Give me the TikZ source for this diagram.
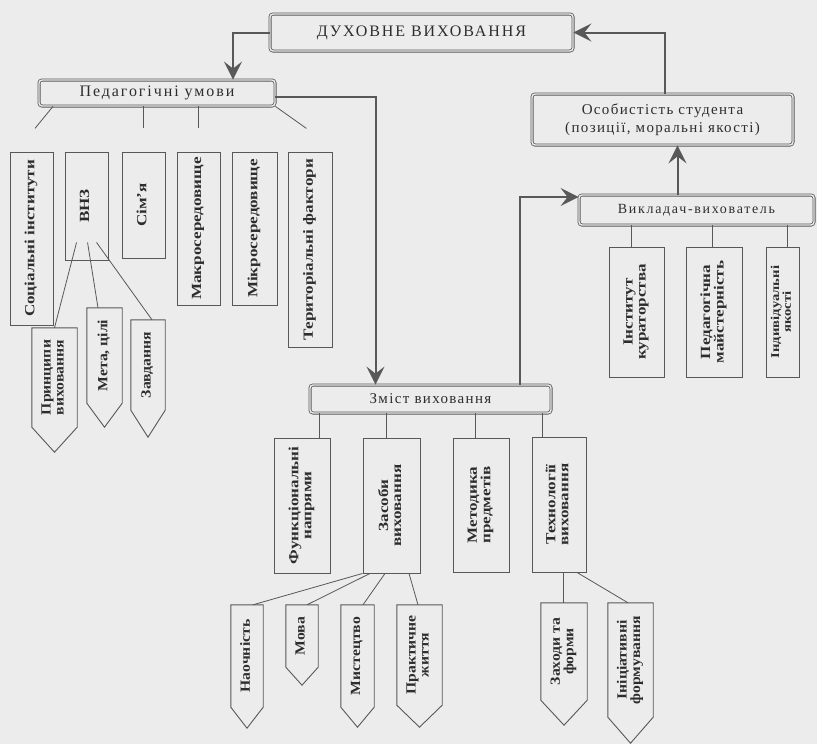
\documentclass[tikz,border=0pt]{standalone}
\usepackage{fontspec}
\setmainfont{Liberation Serif}
\newfontfamily\spacedfont[LetterSpace=12]{Liberation Serif}
\newfontfamily\osofont[LetterSpace=9]{Liberation Serif}
\newfontfamily\widefont[LetterSpace=12]{Liberation Serif}
\usetikzlibrary{arrows.meta,calc}
\definecolor{bgc}{RGB}{236,236,236}
\definecolor{lc}{RGB}{88,88,88}
\definecolor{tc}{RGB}{45,45,45}
\newcommand\vfont{\fontsize{14}{13}\selectfont\bfseries}
\newcommand\vlab[1]{\rotatebox{90}{\scalebox{1.22}[1]{\begin{tabular}{@{}c@{}}#1\end{tabular}}}}
\newcommand\plab[1]{\rotatebox{90}{\scalebox{1.12}[1]{\begin{tabular}{@{}c@{}}#1\end{tabular}}}}
\newcommand\vb[6]{\node[vbox, minimum width={#4-#2}, minimum height={#5-#3}] (#1) at ({(#2+#4)/2},{(#3+#5)/2}) {\vlab{#6}};}
\newcommand\pentnode[7]{%
  \node[inner sep=0pt, minimum width={#3-#2}, minimum height={#5-#4}, font=\vfont, text=tc] (#1) at ({(#2+#3)/2},{(#4+#5)/2}) {\plab{#7}};
  \draw[boxline] (#1.north west) -- (#1.north east) -- (#1.south east) -- ($(#1.south)+(0,{#6-#5})$) -- (#1.south west) -- cycle;}
\tikzset{
  boxline/.style={draw=lc, line width=0.9pt, line join=miter},
  vbox/.style={boxline, inner sep=0pt, font=\vfont, text=tc},
  dbl/.style={draw=lc, double=bgc, double distance=1.4pt, line width=0.8pt, rounded corners=3pt, inner sep=0pt, text=tc, align=center},
  conn/.style={draw=lc, line width=0.8pt},
  arr/.style={draw=lc, line width=2pt, -{Stealth[length=18pt,width=18pt,inset=7pt]}},
}
\begin{document}
\begin{tikzpicture}[x=1pt,y=-1pt]
\fill[bgc] (0,0) rectangle (817,744);
\useasboundingbox (0,0) rectangle (817,744);

% double-framed boxes
\node[dbl, minimum width=303, minimum height=37, font=\fontsize{16}{16}\selectfont\spacedfont] (duh) at (421.5,32.5) {ДУХОВНЕ ВИХОВАННЯ};
\node[dbl, minimum width=236, minimum height=26, font=\fontsize{16}{16}\selectfont\spacedfont] (ped) at (157,93) {Педагогічні умови};
\node[dbl, minimum width=261, minimum height=51, font=\fontsize{15}{18}\selectfont\osofont] (oso) at (662.5,119.5) {Особистість студента\\(позиції, моральні якості)};
\node[dbl, minimum width=235, minimum height=30, font=\fontsize{14}{14}\selectfont\widefont] (vik) at (696.5,210) {Викладач-вихователь};
\node[dbl, minimum width=241, minimum height=28, font=\fontsize{15}{15}\selectfont\osofont] (zm) at (430.5,399) {Зміст виховання};

% vertical boxes
\vb{soc}{10}{152}{53}{325}{Соціальні інститути}
\vb{vnz}{65}{152}{108}{260}{ВНЗ}
\vb{sim}{122}{152}{165}{258}{Сім'я}
\vb{mak}{177}{152}{220}{305}{Макросередовище}
\vb{mik}{232}{152}{277}{305}{Мікросередовище}
\vb{ter}{288}{152}{332}{347}{Територіальні фактори}
\vb{kur}{609}{247}{664}{377}{Інститут\\кураторства}
\vb{maj}{686}{247}{742}{377}{Педагогічна\\майстерність}
\node[vbox, font=\fontsize{12}{11.5}\selectfont\bfseries, minimum width=33, minimum height=130] (ind) at (782.5,312) {\vlab{Індивідуальні\\якості}};
\vb{fun}{274}{438}{330}{573}{Функціональні\\напрями}
\vb{zas}{363}{438}{420}{573}{Засоби\\виховання}
\vb{met}{453}{438}{509}{572}{Методика\\предметів}
\vb{teh}{532}{437}{586}{572}{Технології\\виховання}

% pentagons
\pentnode{pri}{32}{77}{328}{427}{452}{Принципи\\виховання}
\pentnode{mta}{87}{122}{308}{403}{427}{Мета, цілі}
\pentnode{zav}{131}{165}{320}{410}{437}{Завдання}
\pentnode{nao}{231}{263}{605}{707}{728}{Наочність}
\pentnode{mov}{286}{318}{605}{667}{685}{Мова}
\pentnode{mys}{341}{374}{605}{707}{727}{Мистецтво}
\pentnode{pra}{397}{442}{605}{705}{727}{Практичне\\життя}
\pentnode{zah}{541}{587}{603}{700}{725}{Заходи та\\форми}
\pentnode{ini}{608}{653}{603}{717}{743}{Ініціативні\\формування}

% lines under Педагогічні умови (free ends)
\draw[conn] (ped.south -| 53,0) -- ++(-18,22);
\draw[conn] (ped.south -| 143,0) -- ++(0,22);
\draw[conn] (ped.south -| 198,0) -- ++(0,22);
\draw[conn] (ped.south east) -- ++(31,22);

% ВНЗ children
\draw[conn] ([shift={(12,-18)}]vnz.south west) -- (pri.north);
\draw[conn] ([shift={(23,-18)}]vnz.south west) -- (mta.north -| 98,0);
\draw[conn] ([shift={(32,-18)}]vnz.south west) -- (zav.north -| 152,0);

% Зміст children
\draw[conn] (zm.south -| 319,0) -- (fun.north -| 319,0);
\draw[conn] (zm.south -| 386,0) -- (zas.north -| 386,0);
\draw[conn] (zm.south -| 475,0) -- (met.north -| 475,0);
\draw[conn] (zm.south -| 542,0) -- (teh.north -| 542,0);

% Викладач children
\draw[conn] (vik.south -| 631,0) -- (kur.north -| 631,0);
\draw[conn] (vik.south -| 712,0) -- (maj.north -| 712,0);
\draw[conn] (vik.south -| 787,0) -- (ind.north -| 787,0);

% Засоби children
\draw[conn] (zas.south west) -- (nao.north -| 253,0);
\draw[conn] (zas.south -| 370,0) -- (mov.north -| 307,0);
\draw[conn] (zas.south -| 385,0) -- (mys.north -| 363,0);
\draw[conn] (zas.south -| 409,0) -- (pra.north -| 418,0);

% Технології children
\draw[conn] (teh.south -| 563,0) -- (zah.north -| 563,0);
\draw[conn] (teh.south -| 577,0) -- (ini.north -| 628,0);

% arrows
\draw[arr] (duh.west) -| ([xshift=76pt]ped.north);
\draw[arr] ([yshift=-4pt]ped.east) -| ([xshift=-55pt]zm.north);
\draw[arr] ([xshift=89.5pt]zm.north) |- ([yshift=13pt]vik.west);
\draw[arr] ([xshift=-19pt]vik.north) -- ([xshift=-19pt]vik.north |- oso.south);
\draw[arr] ([xshift=2.5pt]oso.north) |- (duh.east);
\end{tikzpicture}
\end{document}
